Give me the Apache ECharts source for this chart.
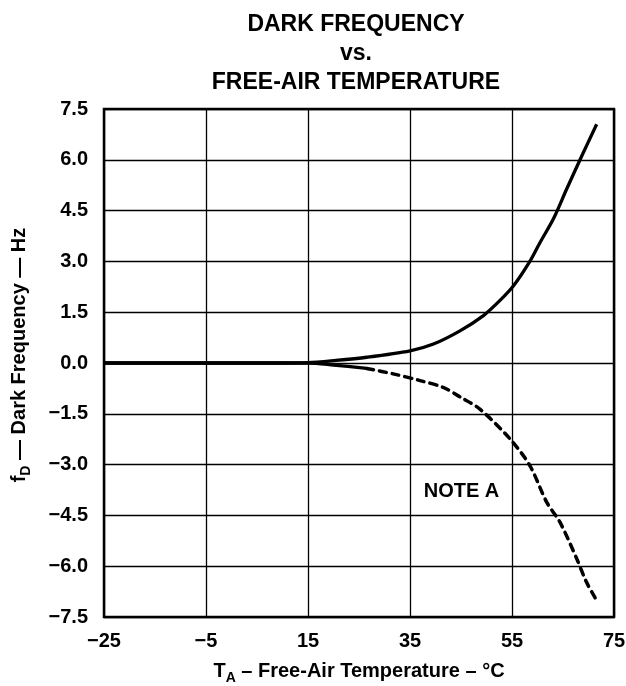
<!DOCTYPE html>
<html>
<head>
<meta charset="utf-8">
<script src="https://cdn.jsdelivr.net/npm/echarts@6/dist/echarts.min.js"></script>
<style>html,body{margin:0;padding:0;background:#fff}#c{width:626px;height:686px}</style>
</head>
<body>
<div id="c"></div>
<script>
// Data
const upperTemp = [-25, -5, 10, 15, 20, 26.5, 35, 39.6, 44.8, 49.4, 52.6, 55.3, 58.5, 60.5, 63.1, 65.7, 68.7, 71.6];
const upperVal  = [0, 0, 0, 0.01, 0.07, 0.17, 0.36, 0.56, 0.95, 1.40, 1.84, 2.28, 3.0, 3.56, 4.25, 5.13, 6.12, 7.05];
const lowerSolidTemp = [-25, 15, 20, 26.5];
const lowerSolidVal  = [0, 0, -0.06, -0.16];
const lowerDashTemp = [26.5, 31.7, 37, 41.5, 44.8, 48.7, 54.6, 58.5, 61.8, 64.4, 67.7, 69.6, 71.6];
const lowerDashVal  = [-0.16, -0.32, -0.52, -0.72, -1.0, -1.36, -2.24, -3.03, -4.11, -4.7, -5.78, -6.47, -7.01];
const xTicks = [-25, -5, 15, 35, 55, 75];
const yTicks = [-7.5, -6.0, -4.5, -3.0, -1.5, 0.0, 1.5, 3.0, 4.5, 6.0, 7.5];
const noteText = 'NOTE A';
const noteAt = [45.1, -3.8];

const zip = (a, b) => a.map((v, i) => [v, b[i]]);
const FONT = '"Liberation Sans", Arial, Helvetica, sans-serif';
const minus = s => String(s).replace('-', '\u2212');

const chart = echarts.init(document.getElementById('c'), null, {renderer: 'canvas'});
chart.setOption({
  animation: false,
  backgroundColor: '#fff',
  title: {
    text: 'DARK FREQUENCY\nvs.\nFREE-AIR TEMPERATURE',
    left: 351, top: 5, textAlign: 'center',
    textStyle: {fontFamily: FONT, fontWeight: 'bold', fontSize: 23, lineHeight: 29, color: '#000'}
  },
  grid: {left: 104, right: 12, top: 109, bottom: 69, show: true, borderColor: '#000', borderWidth: 2.5,
         containLabel: false, outerBoundsMode: 'none'},
  xAxis: {
    type: 'value', min: xTicks[0], max: xTicks[xTicks.length - 1], interval: xTicks[1] - xTicks[0],
    axisLine: {show: false}, axisTick: {show: false},
    splitLine: {show: true, lineStyle: {color: '#000', width: 1.3}},
    axisLabel: {margin: 14, fontFamily: FONT, fontWeight: 'bold', fontSize: 20, color: '#000', formatter: v => minus(v)},
    name: '{n|T}{s|A}{n| \u2013 Free-Air Temperature \u2013 \u00B0C}',
    nameLocation: 'middle', nameGap: 44,
    nameTextStyle: {
      rich: {
        n: {fontFamily: FONT, fontWeight: 'bold', fontSize: 20, color: '#000', lineHeight: 24, verticalAlign: 'top'},
        s: {fontFamily: FONT, fontWeight: 'bold', fontSize: 14, color: '#000', lineHeight: 24, verticalAlign: 'bottom', padding: [9, 0, 0, 0]}
      }
    }
  },
  yAxis: {
    type: 'value', min: yTicks[0], max: yTicks[yTicks.length - 1], interval: 1.5,
    axisLine: {show: false}, axisTick: {show: false},
    splitLine: {show: true, lineStyle: {color: '#000', width: 1.3}},
    axisLabel: {margin: 16, padding: [4, 0, 0, 0], fontFamily: FONT, fontWeight: 'bold', fontSize: 20, color: '#000', formatter: v => minus(v.toFixed(1))},
    name: '{n|f}{s|D}{n| \u2014 Dark Frequency \u2014 Hz}',
    nameLocation: 'middle', nameGap: 71, nameRotate: 90,
    nameTextStyle: {
      padding: [0, 0, 0, 16],
      rich: {
        n: {fontFamily: FONT, fontWeight: 'bold', fontSize: 20, color: '#000', lineHeight: 24, verticalAlign: 'top'},
        s: {fontFamily: FONT, fontWeight: 'bold', fontSize: 14, color: '#000', lineHeight: 24, verticalAlign: 'bottom', padding: [9, 0, 0, 0]}
      }
    }
  },
  series: [
    {type: 'line', data: zip(upperTemp, upperVal), smooth: 0.3, showSymbol: false,
     lineStyle: {color: '#000', width: 3.3}},
    {type: 'line', data: zip(lowerSolidTemp, lowerSolidVal), smooth: 0.3, showSymbol: false,
     lineStyle: {color: '#000', width: 3.3}},
    {type: 'line', data: zip(lowerDashTemp, lowerDashVal), smooth: 0.3, showSymbol: false,
     lineStyle: {color: '#000', width: 3.5, type: [7, 6], cap: 'round'}},
    {type: 'scatter', data: [noteAt], symbolSize: 0, itemStyle: {opacity: 1, color: '#000'},
     label: {show: true, position: 'inside', formatter: noteText, fontFamily: FONT, fontWeight: 'bold', fontSize: 20, color: '#000', opacity: 1}}
  ]
});
</script>
</body>
</html>
